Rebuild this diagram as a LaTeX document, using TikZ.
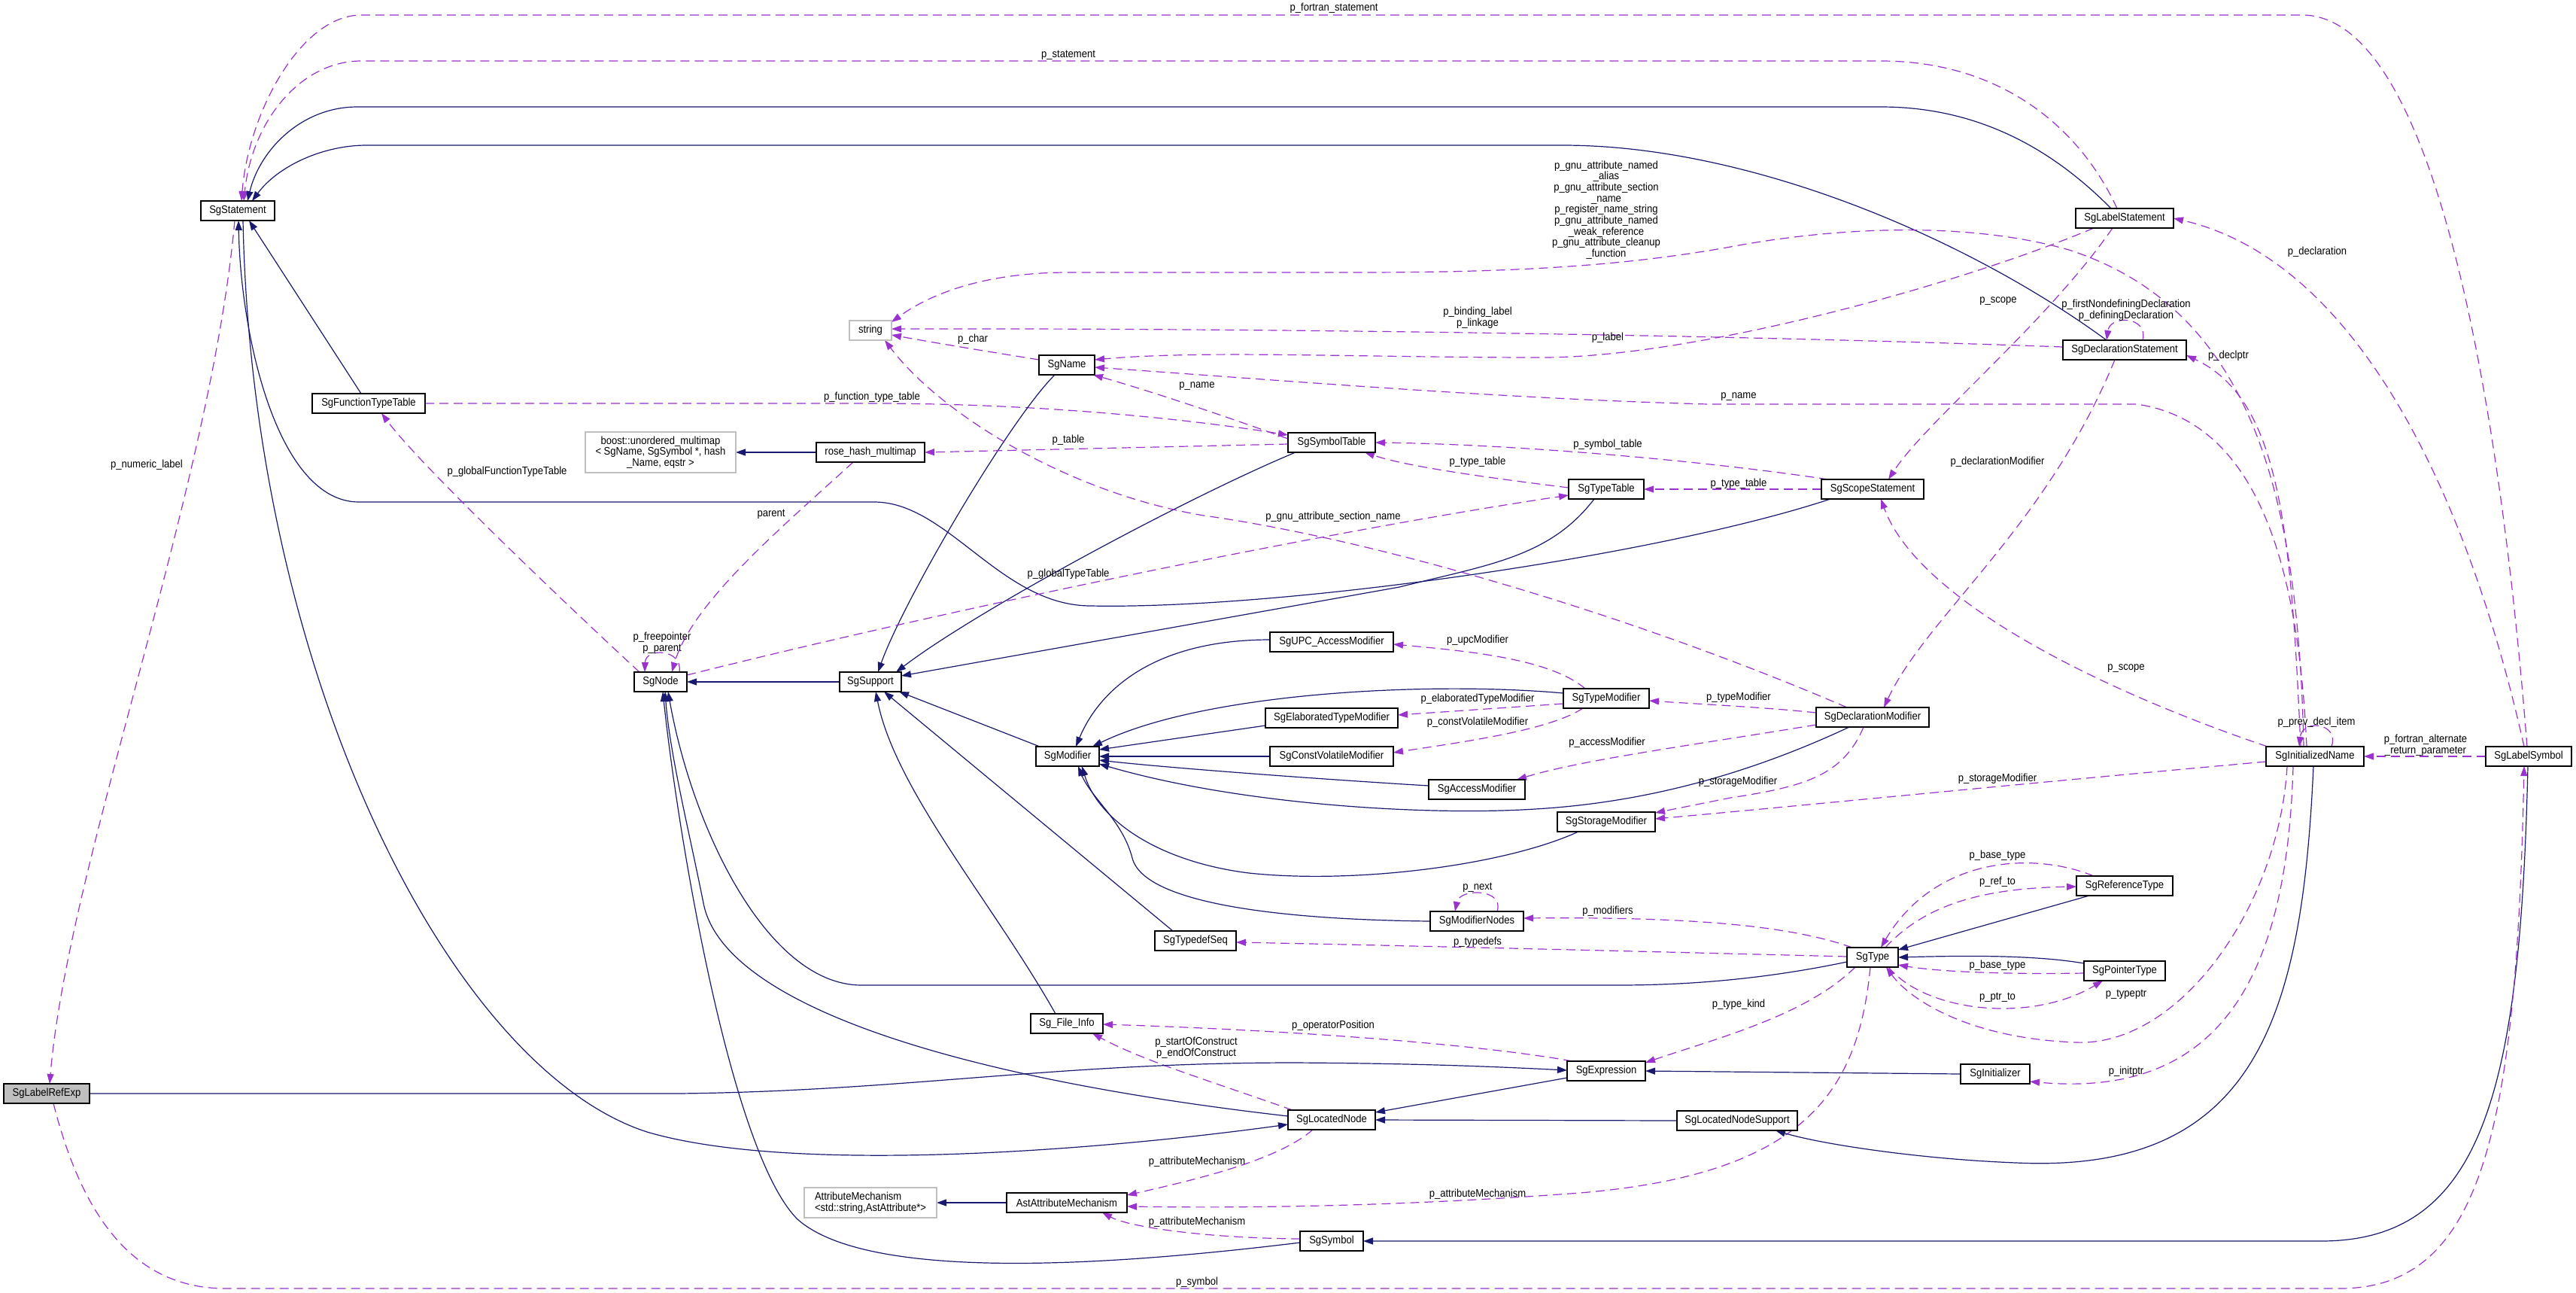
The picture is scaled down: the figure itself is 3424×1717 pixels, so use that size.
\documentclass[tikz,border=0pt]{standalone}
\usepackage{fontspec}
\setmainfont{Liberation Sans}[FakeStretch=0.9]
\usetikzlibrary{arrows.meta,calc}
\pgfdeclarelayer{edgelayer}
\pgfsetlayers{edgelayer,main}
\definecolor{inhc}{RGB}{25,25,112}
\definecolor{usec}{RGB}{154,50,205}
\definecolor{grayb}{RGB}{191,191,191}
\newcommand\dxf{\fontsize{14.5pt}{14.7pt}\selectfont}
\tikzset{
  cls/.style={draw=black, line width=1.4pt, fill=white, minimum height=26pt, inner sep=0pt, font=\dxf},
  ext/.style={cls, draw=grayb},
  inh/.style={draw=inhc, line width=1.2pt, -{Triangle[length=13pt,width=9pt]}},
  use/.style={draw=usec, line width=1.2pt, dash pattern=on 12pt off 7pt, -{Triangle[length=13pt,width=9pt]}},
  lbl/.style={font=\dxf, inner sep=0pt, align=center}
}
\begin{document}
\begin{tikzpicture}[x=1pt,y=-1pt]
\begin{pgfonlayer}{edgelayer}
\fill[white] (0,0) rectangle (3424,1717);
\end{pgfonlayer}
\useasboundingbox (0,0) rectangle (3424,1717);
% ---------- nodes ----------
\node[cls, minimum width=98pt] (stmt) at (316,280) {SgStatement};
\node[cls, minimum width=150pt] (fntt) at (490,536) {SgFunctionTypeTable};
\node[ext, minimum width=56pt] (str) at (1157,439) {string};
\node[cls, minimum width=74pt] (name) at (1418,485) {SgName};
\node[cls, minimum width=130pt] (lst) at (2824,290) {SgLabelStatement};
\node[cls, minimum width=164pt] (dst) at (2824,465) {SgDeclarationStatement};
\node[ext, minimum width=200pt, minimum height=54pt, align=center] (boost) at (878,601) {boost::unordered\_multimap\\< SgName, SgSymbol *, hash\\\_Name, eqstr >};
\node[cls, minimum width=70pt] (node) at (878,906) {SgNode};
\node[cls, minimum width=144pt] (rhm) at (1157,601) {rose\_hash\_multimap};
\node[cls, minimum width=82pt] (sup) at (1157,906) {SgSupport};
\node[cls, minimum width=84pt] (mod) at (1419,1005) {SgModifier};
\node[cls, minimum width=116pt] (symt) at (1770,588) {SgSymbolTable};
\node[cls, minimum width=100pt] (tt) at (2135,650) {SgTypeTable};
\node[cls, minimum width=136pt] (sst) at (2489,650) {SgScopeStatement};
\node[cls, minimum width=164pt] (upc) at (1770,853) {SgUPC\_AccessModifier};
\node[cls, minimum width=114pt] (tmod) at (2135,928) {SgTypeModifier};
\node[cls, minimum width=176pt] (emod) at (1770,954) {SgElaboratedTypeModifier};
\node[cls, minimum width=164pt] (cvmod) at (1770,1005) {SgConstVolatileModifier};
\node[cls, minimum width=128pt] (amod) at (1963,1049) {SgAccessModifier};
\node[cls, minimum width=150pt] (dmod) at (2489,953) {SgDeclarationModifier};
\node[cls, minimum width=130pt] (smod) at (2135,1092) {SgStorageModifier};
\node[cls, minimum width=130pt] (iname) at (3077,1005) {SgInitializedName};
\node[cls, minimum width=114pt] (lsym) at (3361,1005) {SgLabelSymbol};
\node[cls, minimum width=114pt, fill=grayb] (lre) at (62,1453) {SgLabelRefExp};
\node[cls, minimum width=108pt] (tds) at (1589,1250) {SgTypedefSeq};
\node[cls, minimum width=96pt] (fi) at (1418,1360) {Sg\_File\_Info};
\node[ext, minimum width=176pt, minimum height=40pt, align=left] (am) at (1157,1598) {AttributeMechanism\\<std::string,AstAttribute*>};
\node[cls, minimum width=160pt] (aam) at (1418,1598) {AstAttributeMechanism};
\node[cls, minimum width=116pt] (ln) at (1770,1488) {SgLocatedNode};
\node[cls, minimum width=124pt] (mn) at (1963,1224) {SgModifierNodes};
\node[cls, minimum width=68pt] (ty) at (2489,1272) {SgType};
\node[cls, minimum width=104pt] (ex) at (2135,1423) {SgExpression};
\node[cls, minimum width=160pt] (lns) at (2309,1489) {SgLocatedNodeSupport};
\node[cls, minimum width=84pt] (sym) at (1770,1649) {SgSymbol};
\node[cls, minimum width=128pt] (rt) at (2824,1177) {SgReferenceType};
\node[cls, minimum width=108pt] (pt) at (2824,1290) {SgPointerType};
\node[cls, minimum width=92pt] (init) at (2652,1427) {SgInitializer};

% ---------- connectors (behind the nodes) ----------
\begin{pgfonlayer}{edgelayer}
\draw[use] ($(lsym.center)+(-2,-13)$) .. controls (3320,500) and (3230,20) .. (3060,20) -- (480,20) .. controls (400,20) and (330,150) .. ($(stmt.center)+(5,-13)$);
\draw[use] ($(lst.center)+(-10,-13)$) .. controls (2760,160) and (2650,81) .. (2500,81) -- (480,81) .. controls (400,81) and (335,160) .. ($(stmt.center)+(8,-13)$);
\draw[inh] ($(lst.center)+(-18,-13)$) .. controls (2720,190) and (2620,142) .. (2500,142) -- (475,142) .. controls (400,142) and (345,200) .. ($(stmt.center)+(13,-13)$);
\draw[inh] ($(dst.center)+(-24,-13)$) .. controls (2620,320) and (2330,193) .. (2077,193) -- (487,193) .. controls (430,193) and (370,220) .. ($(stmt.center)+(19,-13)$);
\draw[inh] ($(fntt.center)+(-10,-13)$) -- ($(stmt.center)+(15,13)$);
\draw[inh] ($(sst.center)+(-56,13)$) .. controls (2200,740) and (1700,810) .. (1450,805) .. controls (1330,805) and (1260,667) .. (1162,667) -- (477,667) .. controls (370,667) and (320,450) .. ($(stmt.center)+(1,13)$);
\draw[inh] ($(stmt.center)+(7,13)$) .. controls (335,900) and (600,1420) .. (860,1504) .. controls (1050,1560) and (1450,1530) .. ($(ln.center)+(-58,6)$);
\draw[use] ($(stmt.center)+(-4,13)$) .. controls (280,650) and (90,1150) .. ($(lre.center)+(4,-13)$);
\draw[use] ($(fntt.center)+(75,0)$) -- (1160,536) .. controls (1400,536) and (1600,560) .. ($(symt.center)+(-58,-10)$);
\draw[use] ($(node.center)+(-28,-13)$) .. controls (760,810) and (560,620) .. ($(fntt.center)+(17,13)$);
\draw[use] ($(node.center)+(25,-13)$) .. controls (908,862) and (858,860) .. ($(node.center)+(-21,-13)$);
\draw[use] ($(rhm.center)+(-23,13)$) .. controls (1040,700) and (920,800) .. ($(node.center)+(15,-13)$);
\draw[inh] ($(sup.center)+(-41,0)$) -- ($(node.center)+(35,0)$);
\draw[inh] ($(ln.center)+(-58,-5)$) .. controls (1250,1430) and (960,1330) .. (935,1200) .. controls (915,1100) and (890,1000) .. ($(node.center)+(6,13)$);
\draw[inh] ($(ty.center)+(-34,6)$) .. controls (2350,1300) and (2250,1309) .. (2150,1309) -- (1145,1309) .. controls (1020,1309) and (920,1100) .. ($(node.center)+(10,13)$);
\draw[inh] ($(sym.center)+(-42,2)$) .. controls (1450,1685) and (1150,1700) .. (1060,1620) .. controls (970,1530) and (900,1100) .. ($(node.center)+(3,13)$);
\draw[inh] ($(name.center)+(-16,13)$) .. controls (1340,560) and (1200,800) .. ($(sup.center)+(10,-13)$);
\draw[inh] ($(symt.center)+(-48,13)$) .. controls (1580,660) and (1300,810) .. ($(sup.center)+(34,-13)$);
\draw[inh] ($(tt.center)+(-16,13)$) .. controls (2060,740) and (1980,750) .. (1860,780) -- ($(sup.center)+(41,-8)$);
\draw[inh] ($(mod.center)+(-37,-13)$) -- ($(sup.center)+(38,13)$);
\draw[inh] ($(tds.center)+(-30,-13)$) -- ($(sup.center)+(18,13)$);
\draw[inh] ($(fi.center)+(-15,-13)$) .. controls (1320,1200) and (1190,1050) .. ($(sup.center)+(7,13)$);
\draw[use] ($(name.center)+(-37,-7)$) .. controls (1300,465) and (1240,455) .. ($(str.center)+(28,6)$);
\draw[use] ($(symt.center)+(-58,-5)$) .. controls (1620,550) and (1530,520) .. ($(name.center)+(35,13)$);
\draw[use] ($(iname.center)+(-11,-13)$) .. controls (3055,750) and (3000,560) .. (2840,537) -- (2270,537) .. controls (2000,530) and (1700,505) .. ($(name.center)+(37,3)$);
\draw[use] ($(lst.center)+(-41,13)$) .. controls (2600,380) and (2250,475) .. (2050,475) .. controls (1800,475) and (1600,465) .. ($(name.center)+(37,-7)$);
\draw[use] ($(iname.center)+(-15,-13)$) .. controls (3055,650) and (2990,410) .. (2750,332) .. controls (2620,295) and (2450,300) .. (2300,328) .. controls (2150,355) and (2000,362) .. (1800,362) -- (1420,362) .. controls (1300,362) and (1230,395) .. ($(str.center)+(28,-11)$);
\draw[use] ($(dst.center)+(-82,-4)$) .. controls (2300,445) and (1700,436) .. ($(str.center)+(28,-2)$);
\draw[use] ($(dmod.center)+(-34,-13)$) .. controls (2200,830) and (1850,720) .. (1600,685) .. controls (1420,655) and (1250,550) .. ($(str.center)+(19,13)$);
\draw[use] ($(symt.center)+(-58,2)$) -- ($(rhm.center)+(72,0)$);
\draw[inh] ($(rhm.center)+(-72,0)$) -- ($(boost.center)+(100,0)$);
\draw[use] ($(sst.center)+(-59,-13)$) .. controls (2250,610) and (2000,590) .. ($(symt.center)+(58,0)$);
\draw[use] ($(tt.center)+(-50,-2)$) .. controls (1980,635) and (1870,620) .. ($(symt.center)+(44,13)$);
\draw[use] ($(sst.center)+(-68,0)$) -- ($(tt.center)+(50,0)$);
\draw[use] ($(node.center)+(35,-9)$) .. controls (1300,800) and (1800,700) .. ($(tt.center)+(-50,8)$);
\draw[use] ($(lst.center)+(-16,13)$) .. controls (2720,430) and (2560,560) .. ($(sst.center)+(21,-13)$);
\draw[use] ($(iname.center)+(-63,-13)$) .. controls (2800,920) and (2550,800) .. ($(sst.center)+(11,13)$);
\draw[use] ($(dst.center)+(24,-13)$) .. controls (2856,420) and (2805,418) .. ($(dst.center)+(-24,-13)$);
\draw[use] ($(iname.center)+(-19,-13)$) .. controls (3045,700) and (3030,530) .. ($(dst.center)+(82,7)$);
\draw[use] ($(dst.center)+(-13,13)$) .. controls (2720,700) and (2560,820) .. ($(dmod.center)+(15,-13)$);
\draw[use] ($(lsym.center)+(-6,-13)$) .. controls (3290,700) and (3150,350) .. ($(lst.center)+(65,0)$);
\draw[use] ($(iname.center)+(22,-13)$) .. controls (3110,960) and (3060,955) .. ($(iname.center)+(-21,-13)$);
\draw[use] ($(lsym.center)+(-57,0)$) -- ($(iname.center)+(65,0)$);
\draw[use] ($(iname.center)+(-65,7)$) .. controls (2700,1040) and (2400,1070) .. ($(smod.center)+(65,-4)$);
\draw[use] ($(dmod.center)+(-12,13)$) .. controls (2450,1030) and (2400,1045) .. (2300,1060) -- ($(smod.center)+(65,-12)$);
\draw[use] ($(dmod.center)+(-75,-6)$) .. controls (2350,940) and (2250,935) .. ($(tmod.center)+(57,3)$);
\draw[use] ($(dmod.center)+(-75,10)$) .. controls (2250,990) and (2100,1010) .. ($(amod.center)+(53,-13)$);
\draw[inh] ($(dmod.center)+(-31,13)$) .. controls (2300,1040) and (2160,1068) .. (2040,1075) .. controls (1900,1084) and (1650,1070) .. ($(mod.center)+(42,10)$);
\draw[use] ($(tmod.center)+(-28,-13)$) .. controls (2060,875) and (1950,865) .. ($(upc.center)+(82,3)$);
\draw[use] ($(tmod.center)+(-57,7)$) -- ($(emod.center)+(88,-4)$);
\draw[use] ($(tmod.center)+(-31,13)$) .. controls (2060,970) and (1950,985) .. ($(cvmod.center)+(82,-5)$);
\draw[inh] ($(tmod.center)+(-57,-7)$) .. controls (1900,905) and (1600,920) .. ($(mod.center)+(33,-13)$);
\draw[inh] ($(upc.center)+(-82,-3)$) .. controls (1530,850) and (1460,920) .. ($(mod.center)+(11,-13)$);
\draw[inh] ($(emod.center)+(-88,10)$) -- ($(mod.center)+(42,-9)$);
\draw[inh] ($(cvmod.center)+(-82,0)$) -- ($(mod.center)+(42,0)$);
\draw[inh] ($(amod.center)+(-64,-5)$) .. controls (1750,1035) and (1550,1020) .. ($(mod.center)+(42,5)$);
\draw[inh] ($(mn.center)+(-62,0)$) .. controls (1700,1222) and (1520,1200) .. (1505,1140) .. controls (1492,1090) and (1450,1060) .. ($(mod.center)+(14,13)$);
\draw[inh] ($(smod.center)+(-37,13)$) .. controls (2000,1150) and (1800,1175) .. (1660,1160) .. controls (1540,1145) and (1460,1090) .. ($(mod.center)+(19,13)$);
\draw[use] ($(mn.center)+(27,-13)$) .. controls (2000,1180) and (1940,1180) .. ($(mn.center)+(-29,-13)$);
\draw[use] ($(ty.center)+(-27,-13)$) .. controls (2380,1230) and (2250,1218) .. ($(mn.center)+(62,-4)$);
\draw[use] ($(ty.center)+(-34,-1)$) .. controls (2100,1262) and (1800,1255) .. ($(tds.center)+(54,2)$);
\draw[use] ($(ty.center)+(-23,13)$) .. controls (2400,1350) and (2280,1380) .. ($(ex.center)+(52,-11)$);
\draw[use] ($(ty.center)+(-3,13)$) .. controls (2470,1450) and (2400,1560) .. (2100,1585) .. controls (1900,1600) and (1700,1606) .. ($(aam.center)+(80,5)$);
\draw[inh] ($(rt.center)+(-47,13)$) -- ($(ty.center)+(34,-10)$);
\draw[inh] ($(pt.center)+(-54,-10)$) .. controls (2700,1268) and (2600,1270) .. ($(ty.center)+(34,0)$);
\draw[use] ($(rt.center)+(-41,-13)$) .. controls (2700,1130) and (2570,1140) .. ($(ty.center)+(11,-13)$);
\draw[use] ($(ty.center)+(17,-13)$) .. controls (2560,1200) and (2640,1180) .. ($(rt.center)+(-64,1)$);
\draw[use] ($(pt.center)+(-54,3)$) .. controls (2650,1295) and (2570,1290) .. ($(ty.center)+(34,10)$);
\draw[use] ($(ty.center)+(21,13)$) .. controls (2560,1345) and (2700,1360) .. ($(pt.center)+(-29,13)$);
\draw[use] ($(iname.center)+(-37,13)$) .. controls (3030,1200) and (2900,1390) .. (2760,1385) .. controls (2620,1380) and (2540,1330) .. ($(ty.center)+(18,13)$);
\draw[use] ($(iname.center)+(-29,13)$) .. controls (3040,1300) and (2950,1460) .. ($(init.center)+(46,10)$);
\draw[inh] ($(iname.center)+(-2,13)$) .. controls (3060,1350) and (3000,1560) .. (2680,1545) .. controls (2550,1540) and (2420,1520) .. ($(lns.center)+(51,13)$);
\draw[inh] ($(init.center)+(-46,0)$) -- ($(ex.center)+(52,0)$);
\draw[use] ($(ex.center)+(-45,-13)$) .. controls (1980,1390) and (1750,1370) .. ($(fi.center)+(48,1)$);
\draw[use] ($(ln.center)+(-52,-13)$) .. controls (1620,1440) and (1520,1410) .. ($(fi.center)+(34,13)$);
\draw[inh] ($(ex.center)+(-52,9)$) -- ($(ln.center)+(58,-10)$);
\draw[inh] ($(lns.center)+(-80,0)$) -- ($(ln.center)+(58,0)$);
\draw[inh] ($(lre.center)+(57,0)$) -- (900,1453) .. controls (1200,1450) and (1400,1412) .. (1720,1412) .. controls (1900,1413) and (2000,1418) .. ($(ex.center)+(-52,-1)$);
\draw[use] ($(ln.center)+(-25,13)$) .. controls (1700,1540) and (1600,1565) .. ($(aam.center)+(80,-10)$);
\draw[use] ($(sym.center)+(-42,-3)$) .. controls (1600,1645) and (1500,1630) .. ($(aam.center)+(47,13)$);
\draw[inh] ($(aam.center)+(-80,0)$) -- ($(am.center)+(88,0)$);
\draw[inh] ($(lsym.center)+(-1,13)$) .. controls (3350,1450) and (3300,1649) .. (3085,1649) -- ($(sym.center)+(42,0)$);
\draw[use] ($(lre.center)+(9,13)$) .. controls (110,1620) and (180,1712) .. (300,1712) -- (3110,1712) .. controls (3300,1712) and (3345,1500) .. ($(lsym.center)+(-6,13)$);
\end{pgfonlayer}

% ---------- edge labels ----------
\node[lbl] (l1) at (1773,11) {p\_fortran\_statement};
\node[lbl] (l2) at (1420,73) {p\_statement};
\node[lbl] (l3) at (2135,279) {p\_gnu\_attribute\_named\\\_alias\\p\_gnu\_attribute\_section\\\_name\\p\_register\_name\_string\\p\_gnu\_attribute\_named\\\_weak\_reference\\p\_gnu\_attribute\_cleanup\\\_function};
\node[lbl] (l4) at (1964,422) {p\_binding\_label\\p\_linkage};
\node[lbl] (l5) at (2137,449) {p\_label};
\node[lbl] (l6) at (2311,527) {p\_name};
\node[lbl] (l7) at (1293,451) {p\_char};
\node[lbl] (l8) at (1591,513) {p\_name};
\node[lbl] (l9) at (1159,528) {p\_function\_type\_table};
\node[lbl] (l10) at (3080,335) {p\_declaration};
\node[lbl] (l11) at (2656,400) {p\_scope};
\node[lbl] (l12) at (2826,412) {p\_firstNondefiningDeclaration\\p\_definingDeclaration};
\node[lbl] (l13) at (2962,473) {p\_declptr};
\node[lbl] (l14) at (195,618) {p\_numeric\_label};
\node[lbl] (l15) at (674,627) {p\_globalFunctionTypeTable};
\node[lbl] (l16) at (880,854) {p\_freepointer\\p\_parent};
\node[lbl] (l17) at (1420,585) {p\_table};
\node[lbl] (l18) at (1025,683) {parent};
\node[lbl] (l19) at (1420,763) {p\_globalTypeTable};
\node[lbl] (l20) at (1772,687) {p\_gnu\_attribute\_section\_name};
\node[lbl] (l21) at (2137,591) {p\_symbol\_table};
\node[lbl] (l22) at (1964,614) {p\_type\_table};
\node[lbl] (l23) at (2311,643) {p\_type\_table};
\node[lbl] (l24) at (1964,851) {p\_upcModifier};
\node[lbl] (l25) at (1964,929) {p\_elaboratedTypeModifier};
\node[lbl] (l26) at (1964,960) {p\_constVolatileModifier};
\node[lbl] (l27) at (2311,927) {p\_typeModifier};
\node[lbl] (l28) at (2136,987) {p\_accessModifier};
\node[lbl] (l29) at (2310,1039) {p\_storageModifier};
\node[lbl] (l30) at (2655,614) {p\_declarationModifier};
\node[lbl] (l31) at (2826,888) {p\_scope};
\node[lbl] (l32) at (3079,960) {p\_prev\_decl\_item};
\node[lbl] (l33) at (3224,990) {p\_fortran\_alternate\\\_return\_parameter};
\node[lbl] (l34) at (2655,1035) {p\_storageModifier};
\node[lbl] (l35) at (2655,1137) {p\_base\_type};
\node[lbl] (l36) at (2655,1172) {p\_ref\_to};
\node[lbl] (l37) at (2655,1283) {p\_base\_type};
\node[lbl] (l38) at (2655,1325) {p\_ptr\_to};
\node[lbl] (l39) at (2826,1321) {p\_typeptr};
\node[lbl] (l40) at (2826,1424) {p\_initptr};
\node[lbl] (l41) at (1964,1179) {p\_next};
\node[lbl] (l42) at (2137,1211) {p\_modifiers};
\node[lbl] (l43) at (1964,1252) {p\_typedefs};
\node[lbl] (l44) at (2311,1335) {p\_type\_kind};
\node[lbl] (l45) at (1772,1363) {p\_operatorPosition};
\node[lbl] (l46) at (1964,1587) {p\_attributeMechanism};
\node[lbl] (l47) at (1590,1392) {p\_startOfConstruct\\p\_endOfConstruct};
\node[lbl] (l48) at (1591,1544) {p\_attributeMechanism};
\node[lbl] (l49) at (1591,1624) {p\_attributeMechanism};
\node[lbl] (l50) at (1591,1704) {p\_symbol};
\end{tikzpicture}
\end{document}
